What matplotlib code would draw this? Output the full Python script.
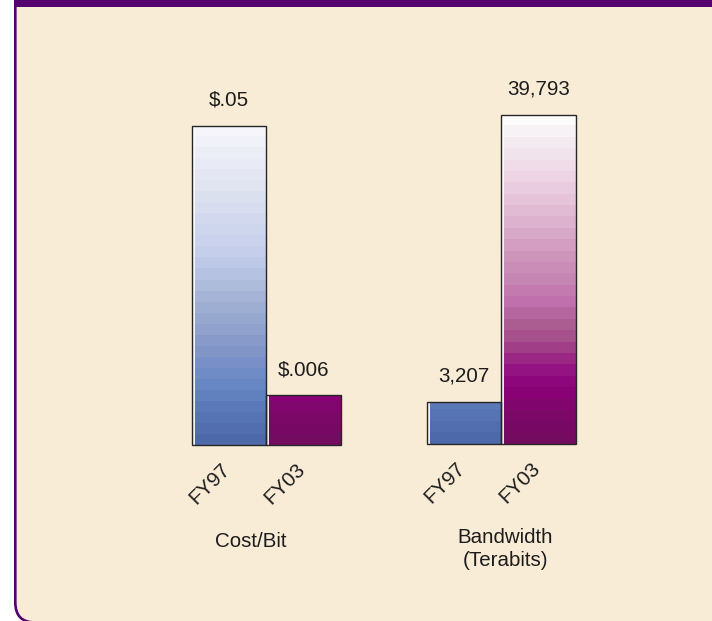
import numpy as np
import matplotlib
matplotlib.use("Agg")
import matplotlib.pyplot as plt
from matplotlib.path import Path
from matplotlib.patches import PathPatch, Rectangle
from matplotlib.colors import LinearSegmentedColormap
from matplotlib.transforms import ScaledTranslation

plt.rcParams['font.family'] = ['Liberation Sans', 'DejaVu Sans']

# ---- data ----
categories = ["FY97", "FY03"]
cost_values = [0.05, 0.006]
cost_labels = ["$.05", "$.006"]
bandwidth_values = [3207, 39793]
bandwidth_labels = ["3,207", "39,793"]
group_titles = ["Cost/Bit", "Bandwidth\n(Terabits)"]
# axis crossing (value axis minimum) of each panel
cost_axis_min = -0.0021
bandwidth_axis_min = -2190

# ---- style ----
BG = "#f9ecd7"
PURPLE = "#55006f"
TEXT = "#1c1c1c"
FS = 14.8

blue_cmap = LinearSegmentedColormap.from_list("blue", [
    (0.00, "#4d67a8"), (0.10, "#5876b6"), (0.20, "#6a89c6"), (0.30, "#8396c8"),
    (0.40, "#98a9cf"), (0.50, "#aebcdc"), (0.60, "#c5cfec"), (0.70, "#d2d9ef"),
    (0.80, "#dfe3f0"), (0.90, "#ebedf7"), (1.00, "#f9f7fe")])
mag_cmap = LinearSegmentedColormap.from_list("mag", [
    (0.00, "#720c5f"), (0.10, "#7d0869"), (0.17, "#8c0079"), (0.22, "#941282"),
    (0.27, "#9e2e86"), (0.32, "#a6508c"), (0.37, "#ad6094"), (0.43, "#c070ac"),
    (0.50, "#c686b3"), (0.58, "#d098bd"), (0.66, "#dbaecc"), (0.75, "#e7c7dc"),
    (0.84, "#efdbe8"), (0.92, "#f4ecf0"), (1.00, "#ffffff")])
bar_cmaps = [blue_cmap, mag_cmap]
NBANDS = 29

W, H = 712, 621
fig = plt.figure(figsize=(W / 100, H / 100), dpi=100)
fig.patch.set_facecolor("white")

# ---- background panel (pixel coordinates) ----
bg = fig.add_axes([0, 0, 1, 1])
bg.set_xlim(0, W)
bg.set_ylim(H, 0)
bg.axis("off")
xl, yb, r = 15.3, 622.5, 20
panel = Path([(xl, -5), (xl, yb - r), (xl, yb), (xl + r, yb), (W + 20, yb),
              (W + 20, -5), (xl, -5)],
             [Path.MOVETO, Path.LINETO, Path.CURVE3, Path.CURVE3, Path.LINETO,
              Path.LINETO, Path.CLOSEPOLY])
bg.add_patch(PathPatch(panel, facecolor=BG, edgecolor="none"))
border = Path([(xl, -5), (xl, yb - r), (xl, yb), (xl + r, yb), (W + 20, yb)],
              [Path.MOVETO, Path.LINETO, Path.CURVE3, Path.CURVE3, Path.LINETO])
bg.add_patch(PathPatch(border, facecolor="none", edgecolor=PURPLE, lw=1.9))
bg.add_patch(Rectangle((14, 0), W, 7, facecolor=PURPLE, edgecolor="none"))

# group titles
bg.text(251, 547, group_titles[0], ha="center", va="baseline", fontsize=FS, color=TEXT)
bg.text(505, 566, group_titles[1], ha="center", va="baseline", fontsize=FS,
        color=TEXT, linespacing=1.25, multialignment="center")


def draw_group(rect, values, labels, vmin):
    ax = fig.add_axes(rect)
    ax.set_facecolor("none")
    vmax = max(values)
    levels = (np.arange(NBANDS) + 0.5) / NBANDS
    for i, (v, lab) in enumerate(zip(values, labels)):
        bar = ax.bar(i, v - vmin, bottom=vmin, width=1.0, facecolor="none",
                     edgecolor="#262626", lw=1.0, zorder=3, clip_on=False)[0]
        grad = bar_cmaps[i](levels)[:, None, :]
        im = ax.imshow(grad, extent=[-0.5, 1.5, vmin, vmax], origin="lower",
                       aspect="auto", interpolation="nearest", zorder=2)
        im.set_clip_path(bar)
        # light inner bevel on the left side
        ax.plot([i - 0.5, i - 0.5], [vmin, v], color="white", lw=1.3, zorder=2.5,
                solid_capstyle="butt",
                transform=ax.transData + ScaledTranslation(2 / 100, 0, fig.dpi_scale_trans))
        ax.annotate(lab, (i, v), xytext=(0, 14.5), textcoords="offset points",
                    ha="center", va="baseline", fontsize=FS, color=TEXT)
        ax.text(i, 0, categories[i], rotation=45, ha="right", va="top",
                fontsize=FS, color=TEXT,
                transform=ax.get_xaxis_transform()
                + ScaledTranslation(5 / 100, -15 / 100, fig.dpi_scale_trans))
    ax.set_xlim(-0.5, 1.5)
    ax.set_ylim(vmin, vmax)
    ax.set_xticks([])
    ax.set_yticks([])
    for s in ax.spines.values():
        s.set_visible(False)
    return ax


draw_group([191.7 / W, (H - 445) / H, 149.3 / W, 319.3 / H],
           cost_values, cost_labels, cost_axis_min)
draw_group([426.7 / W, (H - 444) / H, 149.0 / W, 329.0 / H],
           bandwidth_values, bandwidth_labels, bandwidth_axis_min)

fig.savefig("out.png", dpi=100, facecolor=fig.get_facecolor())
